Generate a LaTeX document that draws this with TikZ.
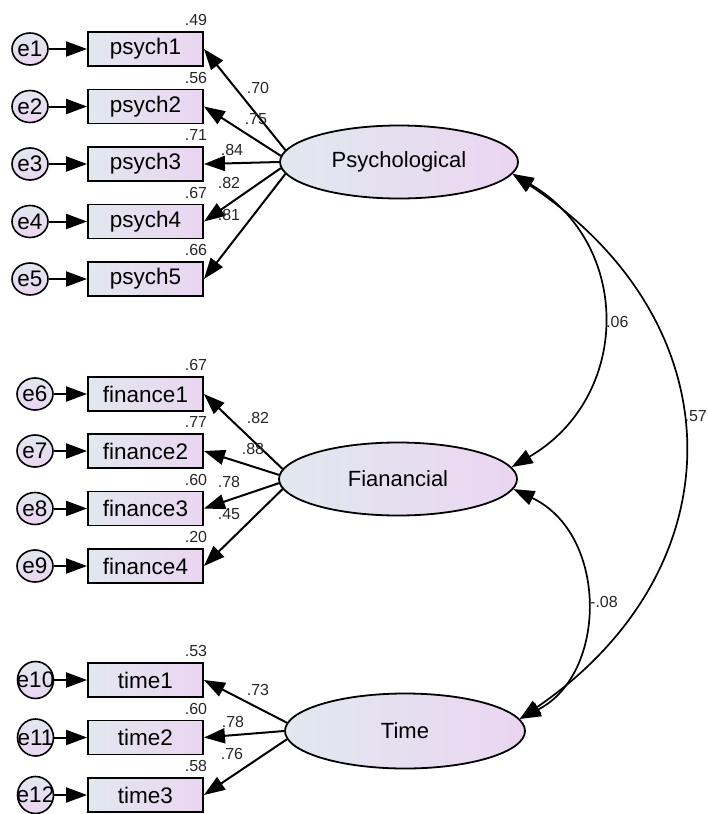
\documentclass[tikz,border=0pt]{standalone}
\usepackage{fontspec}
\setmainfont{Liberation Sans}
\usetikzlibrary{shapes.geometric,arrows.meta}
\definecolor{shadeL}{HTML}{E1E8EF}
\definecolor{shadeR}{HTML}{EBD5F1}
\newcommand{\errtext}[1]{\makebox[0pt]{#1}}
\tikzset{
  obs/.style={draw, line width=1.9pt, rectangle, minimum width=115pt, minimum height=34pt,
    inner sep=0pt, left color=shadeL, right color=shadeR, font=\fontsize{22.5}{25}\selectfont},
  err/.style={draw, line width=1.6pt, ellipse, minimum width=36pt, minimum height=32pt,
    inner sep=0pt, top color=shadeL, bottom color=shadeR, font=\fontsize{22.5}{25}\selectfont},
  errbig/.style={err, minimum width=36pt, minimum height=37pt},
  lat/.style={draw, line width=1.8pt, ellipse, minimum width=238pt, minimum height=73pt,
    inner sep=0pt, left color=shadeL, right color=shadeR, font=\fontsize{22}{25}\selectfont},
  arr/.style={line width=2pt, -{Triangle[length=21pt,width=15pt]}},
  dbl/.style={line width=1.7pt, {Triangle[length=21pt,width=15pt]}-{Triangle[length=21pt,width=15pt]}},
  num/.style={font=\fontsize{16}{18}\selectfont, inner sep=0pt, text=black!85},
}
\begin{document}
\begin{tikzpicture}[x=1pt,y=-1pt]
\useasboundingbox (0,0) rectangle (708,814);

% latent factors
\node[lat] (P) at (399,162) {Psychological};
\node[lat] (F) at (398,479) {Fianancial};
\node[lat, minimum width=240pt, minimum height=75pt] (T) at (405,731) {Time};

% psychological indicators
\node[obs] (b1) at (145.5,49) {psych1};
\node[obs] (b2) at (145.5,106.5) {psych2};
\node[obs] (b3) at (145.5,164) {psych3};
\node[obs] (b4) at (145.5,221.5) {psych4};
\node[obs] (b5) at (145.5,279) {psych5};
\node[err] (e1) at (30,49) {\errtext{e1}};
\node[err] (e2) at (30,106.5) {\errtext{e2}};
\node[err] (e3) at (30,164) {\errtext{e3}};
\node[err] (e4) at (30,221.5) {\errtext{e4}};
\node[err] (e5) at (30,279) {\errtext{e5}};

% financial indicators
\node[obs] (b6) at (145.5,394) {finance1};
\node[obs] (b7) at (145.5,451) {finance2};
\node[obs] (b8) at (145.5,508.5) {finance3};
\node[obs] (b9) at (145.5,566) {finance4};
\node[err] (e6) at (35,394) {\errtext{e6}};
\node[err] (e7) at (35,451) {\errtext{e7}};
\node[err] (e8) at (35,508.5) {\errtext{e8}};
\node[err] (e9) at (35,566) {\errtext{e9}};

% time indicators
\node[obs] (b10) at (145.5,680) {time1};
\node[obs] (b11) at (145.5,737.5) {time2};
\node[obs] (b12) at (145.5,795) {time3};
\node[errbig] (e10) at (35.5,680) {\errtext{e10}};
\node[errbig] (e11) at (35.5,737.5) {\errtext{e11}};
\node[errbig] (e12) at (35.5,795) {\errtext{e12}};

% error terms
\foreach \i in {1,...,12} \draw[arr] (e\i) -- (b\i);

% loadings
\draw[arr] (P.174) -- (b1.east);
\draw[arr] (P.177) -- (b2.east);
\draw[arr] (P.180) -- (b3.east);
\draw[arr] (P.183) -- (b4.east);
\draw[arr] (P.186) -- (b5.east);
\draw[arr] (F.175) -- (b6.east);
\draw[arr] (F.178) -- (b7.east);
\draw[arr] (F.182) -- (b8.east);
\draw[arr] (F.185) -- (b9.east);
\draw[arr] (T.176) -- (b10.east);
\draw[arr] (T.180) -- (b11.east);
\draw[arr] (T.184) -- (b12.east);

% factor correlations
\draw[dbl] (P.-6) .. controls +(120,70) and +(120,-70) .. (F.6);
\draw[dbl] (P.-6) .. controls +(226,150) and +(219,-150) .. (T.6);
\draw[dbl] (F.-5) .. controls +(95,45) and +(88,-45) .. (T.6);
\node[num, anchor=west] (c1) at (606,322) {.06};
\node[num, anchor=east] (c2) at (707,416) {.57};
\node[num, anchor=west] (c3) at (590,602) {-.08};

% squared multiple correlations
\node[num] (r1) at (196,20) {.49};
\node[num] (r2) at (196,77.5) {.56};
\node[num] (r3) at (196,135) {.71};
\node[num] (r4) at (196,192.5) {.67};
\node[num] (r5) at (196,250) {.66};
\node[num] (r6) at (196,365) {.67};
\node[num] (r7) at (196,422) {.77};
\node[num] (r8) at (196,479.5) {.60};
\node[num] (r9) at (196,537) {.20};
\node[num] (r10) at (196,651) {.53};
\node[num] (r11) at (196,708.5) {.60};
\node[num] (r12) at (196,766) {.58};

% standardized loadings
\node[num] (w1) at (258,88) {.70};
\node[num] (w2) at (256,119) {.75};
\node[num] (w3) at (232,150) {.84};
\node[num] (w4) at (229,183) {.82};
\node[num] (w5) at (229,215) {.81};
\node[num] (w6) at (258,418) {.82};
\node[num] (w7) at (253,449) {.88};
\node[num] (w8) at (229,482) {.78};
\node[num] (w9) at (229,514) {.45};
\node[num] (w10) at (258,690) {.73};
\node[num] (w11) at (233,722) {.78};
\node[num] (w12) at (232,754) {.76};
\end{tikzpicture}
\end{document}
